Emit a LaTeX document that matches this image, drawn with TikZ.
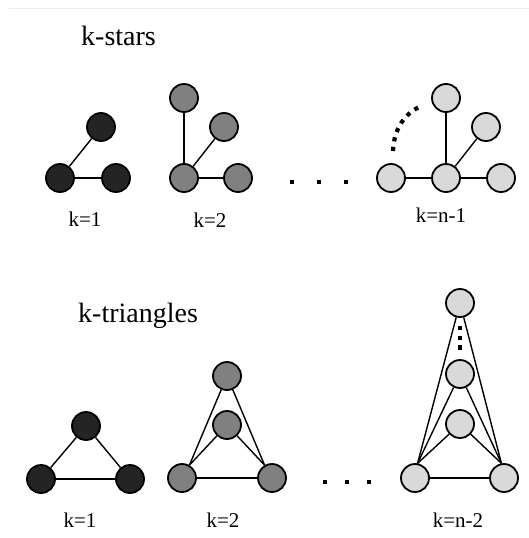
\documentclass[tikz,border=0pt]{standalone}
\usepackage{fontspec}
\setmainfont{Liberation Serif}
\usetikzlibrary{positioning}

\begin{document}
\begin{tikzpicture}[x=1pt,y=-1pt,on grid,
    vtx/.style={circle,draw,line width=1.8pt,minimum size=28pt,inner sep=0pt},
    dk/.style={vtx,fill=black!86},
    md/.style={vtx,fill=black!50},
    lt/.style={vtx,fill=black!15},
    ttl/.style={font=\fontsize{28}{30}\selectfont,inner sep=0pt,anchor=base west},
    lbl/.style={font=\fontsize{21}{23}\selectfont,inner sep=0pt,anchor=base},
    dotline/.style={line width=4.2pt,dash pattern=on 4.2pt off 5.5pt}]
\useasboundingbox (0,0) rectangle (529,538);
\draw[gray!15,line width=1pt] (9,8) -- (529,8);

% k-stars
\node[ttl] (stars) at (81,45) {k-stars};

\node[dk] (s1a) at (60,178) {};
\node[dk] (s1b) [right=56pt of s1a] {};
\node[dk] (s1c) at (101,127) {};

\node[md] (s2a) at (184,178) {};
\node[md] (s2b) [right=54pt of s2a] {};
\node[md] (s2c) [above=80pt of s2a] {};
\node[md] (s2d) at (224,127) {};

\node[lt] (s3a) at (391,178) {};
\node[lt] (s3b) [right=55pt of s3a] {};
\node[lt] (s3c) [right=55pt of s3b] {};
\node[lt] (s3d) [above=80pt of s3b] {};
\node[lt] (s3e) at (486,127) {};

\path[line width=1.4pt]
    (s1a) edge (s1b) edge (s1c)
    (s2a) edge (s2b) edge (s2c) edge (s2d)
    (s3b) edge (s3a) edge (s3c) edge (s3d) edge (s3e);

\draw[dotline] (393,151) .. controls (394,129) and (404,114) .. (421,106);
\foreach \x in {292,319,346} \fill (\x-2,180) rectangle ++(4,4);

\node[lbl] (l1) at (85,226) {k=1};
\node[lbl] (l2) at (210,227) {k=2};
\node[lbl] (l3) at (441,222) {k=n-1};

% k-triangles
\node[ttl] (tri) at (78,322) {k-triangles};

\node[dk] (t1a) at (41,479) {};
\node[dk] (t1b) [right=89pt of t1a] {};
\node[dk] (t1c) at (86,426) {};

\node[md] (t2a) at (182,478) {};
\node[md] (t2b) [right=90pt of t2a] {};
\node[md] (t2c) at (227,425) {};
\node[md] (t2d) [above=49pt of t2c] {};

\node[lt] (t3a) at (415,478) {};
\node[lt] (t3b) [right=89pt of t3a] {};
\node[lt] (t3c) at (460,424) {};
\node[lt] (t3d) [above=50pt of t3c] {};
\node[lt] (t3e) [above=71pt of t3d] {};

\path[line width=1.4pt]
    (t1a) edge (t1b) edge (t1c)
    (t1b) edge (t1c)
    (t2a) edge (t2b)
    (t2c) edge (t2a.60) edge (t2b.120)
    (t2d) edge (t2a.60) edge (t2b.120)
    (t3a) edge (t3b)
    (t3c) edge (t3a.80) edge (t3b.100)
    (t3d) edge (t3a.80) edge (t3b.100)
    (t3e) edge (t3a.80) edge (t3b.100);

\draw[dotline,shorten <=8pt,shorten >=8pt] (t3e.south) -- (t3d.north);
\foreach \x in {325,347,369} \fill (\x-2,480) rectangle ++(4,4);

\node[lbl] (l4) at (80,527) {k=1};
\node[lbl] (l5) at (223,527) {k=2};
\node[lbl] (l6) at (458,527) {k=n-2};
\end{tikzpicture}
\end{document}
